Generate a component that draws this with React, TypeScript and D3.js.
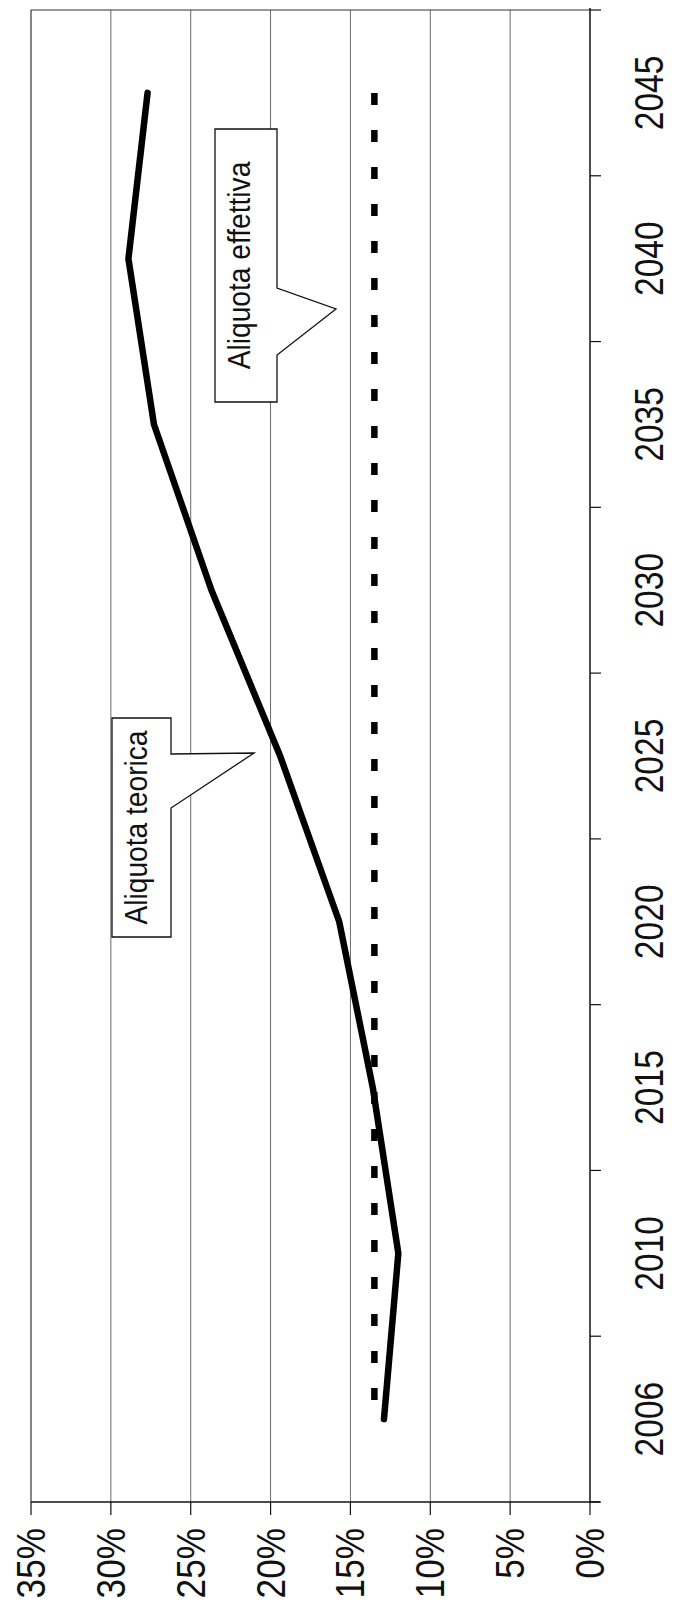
import * as d3 from "d3";
import React from "react";

// categories (bottom to top along the rotated axis)
const years = ["2006", "2010", "2015", "2020", "2025", "2030", "2035", "2040", "2045"];
const teorica = [12.9, 12.0, 13.6, 15.7, 19.4, 23.7, 27.3, 28.9, 27.7];
const effettiva = [13.5, 13.5, 13.5, 13.5, 13.5, 13.5, 13.5, 13.5, 13.5];
const pctTicks = [35, 30, 25, 20, 15, 10, 5, 0];

const width = 675;
const height = 1612;
const plotLeft = 31;
const plotRight = 590;
const plotTop = 10;
const plotBottom = 1502;
const font = "'Liberation Sans', Arial, sans-serif";

const App = () => {
  const x = d3.scaleLinear([0, 35], [plotRight, plotLeft]);
  const y = d3.scalePoint(years, [plotBottom, plotTop]).padding(0.5);
  const step = y.step();

  const line = d3
    .line<number>()
    .x((d) => x(d))
    .y((d, i) => y(years[i]) as number);

  const boundaries = d3.range(years.length + 1).map((i) => plotBottom - i * step);

  return (
    <svg
      width={width}
      height={height}
      style={{ position: "absolute", left: 0, top: 0, background: "#fff" }}
    >
      {/* gridlines */}
      <g stroke="#6a6a6a" strokeWidth={1}>
        {pctTicks.slice(1, -1).map((v) => (
          <line key={v} x1={x(v)} x2={x(v)} y1={plotTop} y2={plotBottom} />
        ))}
      </g>
      {/* border */}
      <line x1={plotLeft} x2={plotRight} y1={plotTop} y2={plotTop} stroke="#333" strokeWidth={1.2} />
      <line x1={plotLeft} x2={plotLeft} y1={plotTop} y2={plotBottom} stroke="#333" strokeWidth={1.2} />

      {/* value axis (bottom) */}
      <line x1={plotLeft} x2={plotRight + 10} y1={plotBottom} y2={plotBottom} stroke="#111" strokeWidth={1.5} />
      <g stroke="#111" strokeWidth={1.2}>
        {pctTicks.map((v) => (
          <line key={v} x1={x(v)} x2={x(v)} y1={plotBottom} y2={plotBottom + 13} />
        ))}
      </g>
      <g fontFamily={font} fontSize={40} fill="#111">
        {pctTicks.map((v) => (
          <text
            key={v}
            transform={`translate(${x(v) + 14},1528) rotate(-90) scale(0.88,1)`}
            textAnchor="end"
          >
            {`${v}%`}
          </text>
        ))}
      </g>

      {/* category axis (right) */}
      <line x1={plotRight} x2={plotRight} y1={plotTop - 2} y2={plotBottom} stroke="#111" strokeWidth={1.5} />
      <g stroke="#111" strokeWidth={1.2}>
        {boundaries.map((b, i) => (
          <line key={i} x1={plotRight} x2={plotRight + 11} y1={b} y2={b} />
        ))}
      </g>
      <g fontFamily={font} fontSize={40} fill="#111">
        {years.map((yr) => (
          <text
            key={yr}
            transform={`translate(663,${y(yr)}) rotate(-90) scale(0.84,1)`}
            textAnchor="middle"
          >
            {yr}
          </text>
        ))}
      </g>

      {/* series */}
      <path
        d={line(effettiva) ?? undefined}
        fill="none"
        stroke="#000"
        strokeWidth={6.5}
        strokeDasharray="12 25"
        strokeDashoffset={18}
      />
      <path
        d={line(teorica) ?? undefined}
        fill="none"
        stroke="#000"
        strokeWidth={6.5}
        strokeLinejoin="round"
        strokeLinecap="round"
      />

      {/* callouts */}
      <g fill="#fff" stroke="#111" strokeWidth={1.3}>
        <path d="M112,718 H171 V754 L254,753 L171,808 V937 H112 Z" />
        <path d="M215,129 H277 V288 L336,309 L277,355 V402 H215 Z" />
      </g>
      <g fontFamily={font} fontSize={32} fill="#111">
        <text transform="translate(147,827.5) rotate(-90) scale(0.88,1)" textAnchor="middle">
          Aliquota teorica
        </text>
        <text transform="translate(250,265.5) rotate(-90) scale(0.88,1)" textAnchor="middle">
          Aliquota effettiva
        </text>
      </g>
    </svg>
  );
};

export default App;
